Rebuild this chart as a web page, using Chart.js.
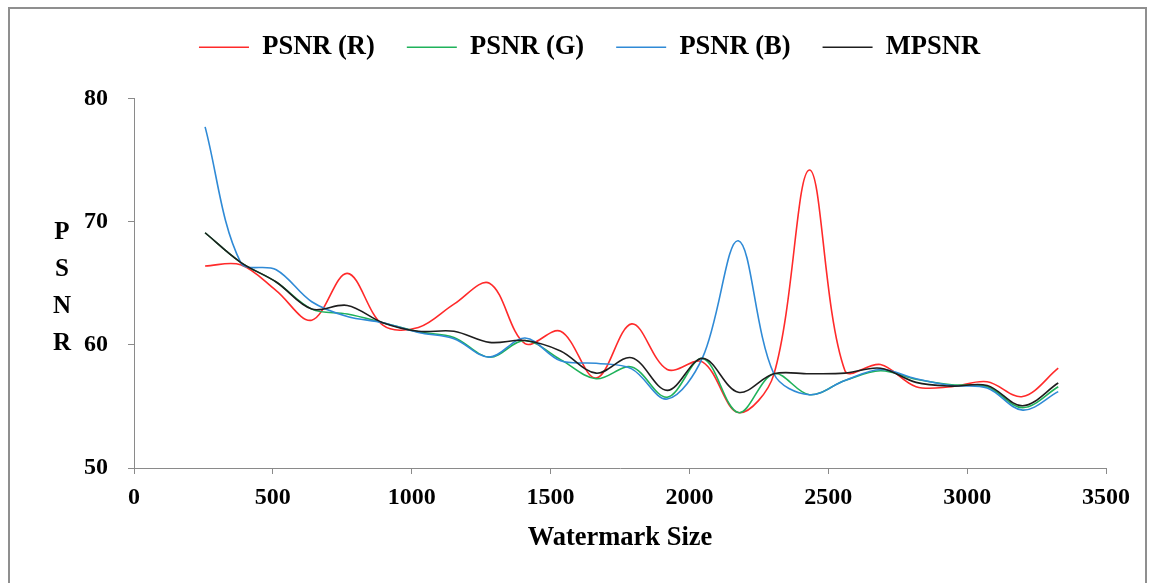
<!DOCTYPE html>
<html>
<head>
<meta charset="utf-8">
<script src="https://cdn.jsdelivr.net/npm/chart.js@4.4.1/dist/chart.umd.min.js"></script>
<style>
  html, body { margin: 0; padding: 0; background: #fff; }
  #wrap { position: relative; width: 1158px; height: 583px; overflow: hidden; }
  #frame { position: absolute; left: 8px; top: 7px; width: 1139px; height: 640px; border: 2px solid #8f8f8f; box-sizing: border-box; }
  canvas { position: absolute; left: 0; top: 0; }
</style>
</head>
<body>
<div id="wrap">
  <div id="frame"></div>
  <canvas id="psnr" width="1158" height="583"></canvas>
</div>
<script>
// PSNR vs watermark size

const sizes = [256, 384, 512, 640, 768, 896, 1024, 1152, 1280, 1408, 1536, 1664, 1792,
               1920, 2048, 2176, 2304, 2432, 2560, 2688, 2816, 2944, 3072, 3200, 3328];
const psnr_r = [66.4, 66.5, 64.4, 62.0, 65.8, 61.6, 61.4, 63.3, 65.0, 60.1, 61.1, 57.3, 61.7,
                58.0, 58.6, 54.5, 57.6, 74.2, 57.9, 58.4, 56.6, 56.6, 57.0, 55.8, 58.1];
const psnr_g = [69.1, 66.7, 65.1, 62.9, 62.5, 61.8, 61.05, 60.6, 59.0, 60.35, 58.8, 57.25, 58.2,
                55.75, 58.9, 54.5, 57.65, 55.95, 57.1, 57.9, 57.2, 56.75, 56.6, 54.9, 56.6];
const psnr_b = [77.7, 66.7, 66.1, 63.5, 62.3, 61.8, 61.0, 60.5, 59.0, 60.55, 58.7, 58.5, 58.05,
                55.6, 59.0, 68.45, 57.65, 55.95, 57.1, 58.0, 57.25, 56.7, 56.5, 54.7, 56.2];
const mpsnr  = [69.1, 66.7, 65.1, 62.9, 63.2, 61.8, 61.1, 61.1, 60.2, 60.35, 59.5, 57.7, 58.95,
                56.3, 58.9, 56.15, 57.65, 57.65, 57.7, 58.1, 56.95, 56.65, 56.7, 55.05, 56.9];
const series_labels = ['PSNR (R)', 'PSNR (G)', 'PSNR (B)', 'MPSNR'];
const series_colours = ['#ff2a2a', '#1fb25a', '#2f8ad6', '#1e1e1e'];
const y_title = ['P', 'S', 'N', 'R'];

const serif = "'Liberation Serif', 'Times New Roman', serif";

function pts(ys) {
  return ys.map((y, i) => ({x: sizes[i], y: y}));
}

// stacked letters for the y title
const yTitlePlugin = {
  id: 'yTitle',
  afterDraw(chart) {
    const ctx = chart.ctx;
    ctx.save();
    ctx.font = 'bold 25px ' + serif;
    ctx.fillStyle = '#000';
    ctx.textAlign = 'center';
    ctx.textBaseline = 'middle';
    y_title.forEach((ch, i) => ctx.fillText(ch, 62, 233 + i * 36.7));
    ctx.restore();
  }
};

// extra room under the legend
const legendGap = {
  id: 'legendGap',
  beforeInit(chart) {
    const fit = chart.legend.fit;
    chart.legend.fit = function() {
      fit.bind(chart.legend)();
      this.height += 28;
    };
  }
};

const all_series = [psnr_r, psnr_g, psnr_b, mpsnr];

const psnr = document.getElementById('psnr').getContext('2d');

const myLineChart = new Chart(psnr, {
    type: 'line',
    data: {
        datasets: all_series.map((ys, i) => ({
            label: series_labels[i],
            data: pts(ys),
            borderColor: series_colours[i],
            backgroundColor: series_colours[i],
            borderWidth: 1.6,
            pointRadius: 0,
            tension: 0.35,
            fill: false,
            order: 4 - i,
        })),
    },
    plugins: [legendGap, yTitlePlugin],
    options: {
        responsive: false,
        animation: false,
        layout: {
          padding: {left: 73, right: 52, top: 2, bottom: 0}
        },
        scales: {
          x: {
            type: 'linear',
            min: 0,
            max: 3500,
            afterFit: function(scale) { scale.height = 115; },
            grid: {
              display: true,
              drawOnChartArea: false,
              color: '#8a8a8a',
              tickLength: 6,
            },
            border: { color: '#8a8a8a', width: 1 },
            ticks: {
              stepSize: 500,
              color: '#000',
              padding: 9,
              maxRotation: 0,
              font: { family: serif, size: 24, weight: 'bold' },
              callback: function(value) {
                return String(value);
              },
            },
            title: {
              display: true,
              text: 'Watermark Size',
              color: '#000',
              padding: { top: 4, bottom: 29 },
              font: { family: serif, size: 26.5, weight: 'bold' },
            },
          },
          y: {
            min: 50,
            max: 80,
            afterFit: function(scale) { scale.width = 61; },
            grid: {
              display: true,
              drawOnChartArea: false,
              color: '#8a8a8a',
              tickLength: 6,
            },
            border: { color: '#8a8a8a', width: 1 },
            ticks: {
              stepSize: 10,
              color: '#000',
              padding: 20,
              font: { family: serif, size: 24, weight: 'bold' },
            },
          },
        },
        plugins: {
          legend: {
            display: true,
            position: 'top',
            labels: {
              usePointStyle: true,
              pointStyle: 'line',
              pointStyleWidth: 50,
              boxHeight: 2,
              color: '#000',
              padding: 32,
              font: { family: serif, size: 26.5, weight: 'bold' },
              sort: (a, b) => a.datasetIndex - b.datasetIndex,
            }
          },
          tooltip: { enabled: false }
        }
    },
});
</script>
</body>
</html>
